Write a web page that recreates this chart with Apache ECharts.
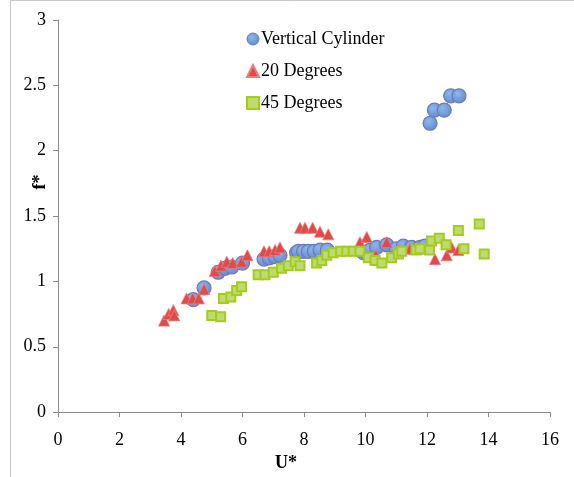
<!DOCTYPE html>
<html>
<head>
<meta charset="utf-8">
<script src="https://cdn.jsdelivr.net/npm/echarts@6/dist/echarts.min.js"></script>
<style>html,body{margin:0;padding:0;background:#fff;}#c{width:574px;height:477px;}</style>
</head>
<body>
<div id="c"></div>
<script>
var seriesNames = ['Vertical Cylinder', '20 Degrees', '45 Degrees'];
var xTicks = [0, 2, 4, 6, 8, 10, 12, 14, 16];
var yTicks = [0, 0.5, 1, 1.5, 2, 2.5, 3];

var cylX = [4.40, 4.75, 5.21, 5.43, 5.65, 6.00, 6.70, 6.87, 7.06, 7.22, 7.76, 7.82, 7.98, 8.14, 8.33, 8.52, 8.76, 9.93, 10.15, 10.36, 10.69, 11.00, 11.23, 11.50, 11.77, 11.93, 12.10, 12.24, 12.56, 12.77, 13.04];
var cylY = [0.86, 0.95, 1.07, 1.10, 1.11, 1.14, 1.17, 1.18, 1.19, 1.20, 1.22, 1.23, 1.23, 1.23, 1.23, 1.24, 1.24, 1.22, 1.24, 1.26, 1.28, 1.25, 1.27, 1.26, 1.26, 1.27, 2.21, 2.31, 2.31, 2.42, 2.42];

var deg20X = [3.45, 3.60, 3.75, 3.78, 4.18, 4.38, 4.58, 4.75, 5.10, 5.30, 5.49, 5.68, 5.97, 6.16, 6.70, 6.87, 7.06, 7.22, 7.87, 8.03, 8.28, 8.52, 8.79, 9.82, 10.04, 10.12, 10.34, 10.69, 11.07, 11.45, 12.26, 12.64, 12.80, 13.02];
var deg20Y = [0.70, 0.75, 0.78, 0.74, 0.87, 0.87, 0.87, 0.94, 1.08, 1.12, 1.15, 1.14, 1.15, 1.20, 1.23, 1.23, 1.24, 1.26, 1.41, 1.41, 1.41, 1.38, 1.36, 1.30, 1.34, 1.19, 1.20, 1.30, 1.24, 1.25, 1.17, 1.20, 1.26, 1.24];

var deg45X = [5.00, 5.29, 5.38, 5.62, 5.81, 5.97, 6.51, 6.73, 7.00, 7.27, 7.49, 7.71, 7.87, 8.41, 8.58, 8.74, 8.95, 9.19, 9.39, 9.60, 9.82, 10.09, 10.31, 10.53, 10.85, 11.07, 11.18, 11.64, 11.77, 12.08, 12.15, 12.40, 12.62, 13.02, 13.20, 13.70, 13.86];
var deg45Y = [0.74, 0.73, 0.87, 0.88, 0.93, 0.96, 1.05, 1.05, 1.07, 1.10, 1.12, 1.15, 1.12, 1.14, 1.16, 1.20, 1.22, 1.23, 1.23, 1.23, 1.23, 1.18, 1.16, 1.14, 1.18, 1.21, 1.23, 1.24, 1.25, 1.24, 1.31, 1.33, 1.28, 1.39, 1.25, 1.44, 1.21];

function pairs(xs, ys) { return xs.map(function (x, i) { return [x, ys[i]]; }); }

var font = 'Liberation Serif';
var chart = echarts.init(document.getElementById('c'));
chart.setOption({
  animation: false,
  backgroundColor: '#ffffff',
  grid: { left: 58, right: 24, top: 20, bottom: 63, containLabel: false },
  legend: {
    orient: 'vertical',
    left: 241,
    top: 24,
    itemGap: 12,
    itemWidth: 12,
    itemHeight: 12,
    data: [
      { name: seriesNames[0], icon: 'circle', itemStyle: { borderWidth: 1 } },
      { name: seriesNames[1], icon: 'triangle' },
      { name: seriesNames[2], icon: 'rect' }
    ],
    textStyle: { fontFamily: font, fontSize: 18, color: '#000', lineHeight: 20, padding: [0, 0, 0, -3] }
  },
  xAxis: {
    type: 'value',
    min: xTicks[0],
    max: xTicks[xTicks.length - 1],
    interval: 2,
    name: 'U*',
    nameLocation: 'middle',
    nameGap: 29,
    nameTextStyle: { fontFamily: font, fontSize: 18, fontWeight: 'bold', color: '#000', padding: [0, 36, 0, 0] },
    axisLine: { show: true, lineStyle: { color: '#8a8a8a', width: 1 } },
    axisTick: { show: true, inside: false, length: 5, lineStyle: { color: '#8a8a8a' } },
    axisLabel: { fontFamily: font, fontSize: 18, color: '#000', margin: 19 },
    splitLine: { show: false }
  },
  yAxis: {
    type: 'value',
    min: yTicks[0],
    max: yTicks[yTicks.length - 1],
    interval: 0.5,
    axisLine: { show: true, lineStyle: { color: '#8a8a8a', width: 1 } },
    axisTick: { show: true, inside: false, length: 5, lineStyle: { color: '#8a8a8a' } },
    axisLabel: { fontFamily: font, fontSize: 18, color: '#000', margin: 12 },
    splitLine: { show: false }
  },
  graphic: [
    { type: 'rect', shape: { x: 10.5, y: 0.5, width: 700, height: 600 }, style: { fill: 'none', stroke: '#c8c8c8', lineWidth: 1 }, z: -1, silent: true },
    { type: 'text', x: 40, y: 182, rotation: Math.PI / 2, style: { text: 'f*', font: 'bold 18px "Liberation Serif"', fill: '#000', textAlign: 'center', textVerticalAlign: 'middle' } }
  ],
  series: [
    {
      name: seriesNames[0], type: 'scatter', symbol: 'circle', symbolSize: 14,
      data: pairs(cylX, cylY),
      itemStyle: {
        color: new echarts.graphic.RadialGradient(0.4, 0.35, 0.7, [{ offset: 0, color: '#8fb6ec' }, { offset: 1, color: '#5a8ad0' }]),
        borderColor: '#7478b0', borderWidth: 1.2, opacity: 1
      }
    },
    {
      name: seriesNames[1], type: 'scatter', symbol: 'triangle', symbolSize: 11,
      data: pairs(deg20X, deg20Y),
      itemStyle: { color: '#e04a4a', borderColor: '#ee7b7b', borderWidth: 0.8, opacity: 1 }
    },
    {
      name: seriesNames[2], type: 'scatter', symbol: 'rect', symbolSize: 9,
      data: pairs(deg45X, deg45Y),
      itemStyle: { color: '#bcdc72', borderColor: '#a5cb1c', borderWidth: 2, opacity: 1 }
    }
  ]
});
</script>
</body>
</html>
